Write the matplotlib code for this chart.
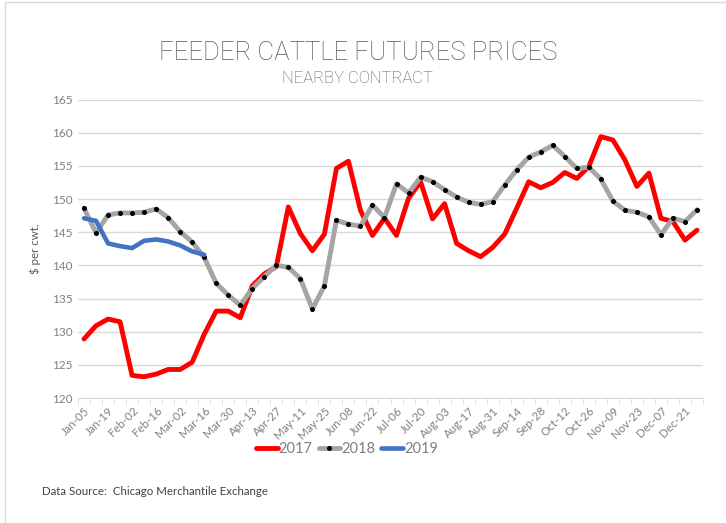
import matplotlib
matplotlib.use('Agg')
import matplotlib.pyplot as plt
from matplotlib.patches import Rectangle
from matplotlib.ticker import FixedLocator

# weekly dates (Jan-05 ... Dec-28), labels every other week
weeks = ['Jan-05', 'Jan-12', 'Jan-19', 'Jan-26', 'Feb-02', 'Feb-09', 'Feb-16', 'Feb-23',
         'Mar-02', 'Mar-09', 'Mar-16', 'Mar-23', 'Mar-30', 'Apr-06', 'Apr-13', 'Apr-20',
         'Apr-27', 'May-04', 'May-11', 'May-18', 'May-25', 'Jun-01', 'Jun-08', 'Jun-15',
         'Jun-22', 'Jun-29', 'Jul-06', 'Jul-13', 'Jul-20', 'Jul-27', 'Aug-03', 'Aug-10',
         'Aug-17', 'Aug-24', 'Aug-31', 'Sep-07', 'Sep-14', 'Sep-21', 'Sep-28', 'Oct-05',
         'Oct-12', 'Oct-19', 'Oct-26', 'Nov-02', 'Nov-09', 'Nov-16', 'Nov-23', 'Nov-30',
         'Dec-07', 'Dec-14', 'Dec-21', 'Dec-28']

prices_2017 = [128.9, 130.9, 131.9, 131.5, 123.4, 123.2, 123.6, 124.3, 124.3, 125.4,
               129.6, 133.1, 133.1, 132.1, 136.9, 138.7, 139.8, 148.8, 144.8, 142.2,
               144.7, 154.6, 155.7, 148.3, 144.5, 147.1, 144.5, 150.1, 152.6, 147.0,
               149.3, 143.3, 142.2, 141.3, 142.7, 144.7, 148.6, 152.6, 151.7, 152.5,
               154.0, 153.1, 154.9, 159.4, 158.9, 155.9, 151.9, 153.9, 147.1, 146.6,
               143.8, 145.3]

prices_2018 = [148.6, 144.9, 147.6, 147.9, 147.9, 148.0, 148.5, 147.2, 145.1, 143.5,
               141.2, 137.3, 135.5, 134.0, 136.5, 138.3, 140.0, 139.7, 138.0, 133.4,
               136.9, 146.8, 146.2, 145.9, 149.1, 147.2, 152.3, 150.9, 153.3, 152.6,
               151.4, 150.3, 149.5, 149.2, 149.6, 152.1, 154.4, 156.3, 157.1, 158.1,
               156.4, 154.6, 154.8, 153.0, 149.7, 148.3, 148.0, 147.3, 144.6, 147.1,
               146.6, 148.4]

prices_2019 = [147.1, 146.7, 143.3, 142.9, 142.6, 143.7, 143.9, 143.6, 143.0, 142.1, 141.6]

grid_c = '#d9d9d9'
text_c = '#7f7f7f'

fig = plt.figure(figsize=(7.26, 5.23), dpi=100)
ax = fig.add_axes([78 / 726, 1 - 398 / 523, 625 / 726, 298.5 / 523])

x17 = range(len(prices_2017))
x18 = range(len(prices_2018))
x19 = range(len(prices_2019))

ax.plot(x17, prices_2017, color='#ff0000', lw=3.5, solid_capstyle='round',
        solid_joinstyle='round', label='2017', zorder=3)
ax.plot(x18, prices_2018, color='#a5a5a5', lw=3.5, solid_capstyle='round',
        solid_joinstyle='round', marker='o', markersize=2.6, markerfacecolor='black',
        markeredgecolor='black', label='2018', zorder=4)
ax.plot(x19, prices_2019, color='#4472c4', lw=3.3, solid_capstyle='round',
        solid_joinstyle='round', label='2019', zorder=5)

ax.set_xlim(-0.5, len(weeks) - 0.5)
ax.set_ylim(120, 165)
ax.set_yticks(range(120, 166, 5))
ax.yaxis.grid(True, color=grid_c, lw=1)
ax.set_axisbelow(True)

ax.set_xticks(range(0, len(weeks), 2))
ax.set_xticklabels(weeks[::2], rotation=45, ha='right', va='top',
                   rotation_mode='anchor', fontsize=8.3, color=text_c, family='Lato')
ax.xaxis.set_minor_locator(FixedLocator([i - 0.5 for i in range(len(weeks) + 1)]))
ax.tick_params(axis='x', which='major', length=0, pad=5)
ax.tick_params(axis='x', which='minor', length=4, color=grid_c)
ax.tick_params(axis='y', length=0, labelsize=8.5, labelcolor=text_c, pad=4)
for lab in ax.get_yticklabels():
    lab.set_family('Lato')

for s in ['top', 'right', 'left']:
    ax.spines[s].set_visible(False)
ax.spines['bottom'].set_color(grid_c)

ax.set_ylabel('$ per cwt.', fontsize=8.3, color='#595959', family='Lato', labelpad=8)

fig.text(0.493, 1 - 60 / 523, 'FEEDER CATTLE FUTURES PRICES', ha='center', va='baseline',
         fontsize=18.5, color='#595959', family='Roboto', weight='light')
fig.text(0.493, 1 - 83 / 523, 'NEARBY CONTRACT', ha='center', va='baseline',
         fontsize=12, color='#595959', family='Roboto', weight='light')

leg = fig.legend(loc='center', bbox_to_anchor=(347 / 726, 1 - 449 / 523), ncol=3,
                 frameon=False, handlelength=1.5, handletextpad=0.08, columnspacing=0.4,
                 prop={'family': 'Lato', 'size': 10.5})
for t in leg.get_texts():
    t.set_color(text_c)

fig.text(42 / 726, 1 - 495 / 523, 'Data Source:  Chicago Merchantile Exchange',
         fontsize=8.3, color='#404040', family='Lato', va='baseline')

fig.patches.append(Rectangle((5 / 726, -0.01), 1.0, 1 - 1.5 / 523 + 0.01,
                             transform=fig.transFigure, fill=False, ec=grid_c, lw=1))

fig.savefig('out.png', dpi=100)
